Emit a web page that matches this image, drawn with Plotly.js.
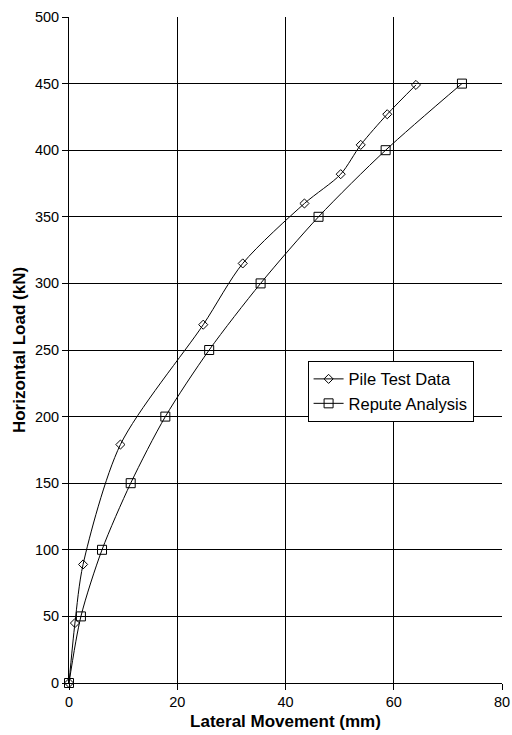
<!DOCTYPE html>
<html>
<head>
<meta charset="utf-8">
<script src="https://cdn.plot.ly/plotly-3.0.1.min.js"></script>
<style>html,body{margin:0;padding:0;background:#fff;}#chart{width:512px;height:735px;}</style>
</head>
<body>
<div id="chart"></div>
<script>
const pileX = [0, 1.1, 2.6, 9.5, 24.8, 32.1, 43.5, 50.2, 53.9, 58.8, 64.1];
const pileY = [0, 45, 89, 179, 269, 315, 360, 382, 404, 427, 449];
const reputeX = [0, 2.2, 6.1, 11.4, 17.8, 25.9, 35.4, 46.1, 58.5, 72.6];
const reputeY = [0, 50, 100, 150, 200, 250, 300, 350, 400, 450];
const seriesNames = ["Pile Test Data", "Repute Analysis"];

const traces = [
  {x: pileX, y: pileY, name: seriesNames[0], type: 'scatter', mode: 'lines+markers',
   line: {color: '#000', width: 1, shape: 'spline', smoothing: 0.8},
   marker: {symbol: 'diamond-open', size: 7, color: '#000', line: {width: 1}},
   cliponaxis: false},
  {x: reputeX, y: reputeY, name: seriesNames[1], type: 'scatter', mode: 'lines+markers',
   line: {color: '#000', width: 1, shape: 'spline', smoothing: 0.8},
   marker: {symbol: 'square-open', size: 9, color: '#000', line: {width: 1}},
   cliponaxis: false}
];

const layout = {
  width: 512, height: 735,
  margin: {l: 69, r: 10, t: 17, b: 52},
  paper_bgcolor: '#fff', plot_bgcolor: '#fff',
  font: {family: '"Liberation Sans", Arial, sans-serif', size: 14.5, color: '#000'},
  showlegend: true,
  legend: {x: 0.551, y: 0.484, xanchor: 'left', yanchor: 'top',
           bordercolor: '#000', borderwidth: 1, bgcolor: '#fff',
           font: {size: 16.5}, itemwidth: 30, tracegroupgap: 0},
  xaxis: {range: [0, 80], dtick: 20, tick0: 0, showgrid: true, gridcolor: '#000', gridwidth: 1,
          zeroline: false, showline: true, linecolor: '#000', linewidth: 1,
          ticks: 'outside', ticklen: 6, tickcolor: '#000',
          title: {text: '<b>Lateral Movement (mm)</b>', font: {size: 17}, standoff: 5}},
  yaxis: {range: [0, 500], dtick: 50, tick0: 0, showgrid: true, gridcolor: '#000', gridwidth: 1,
          zeroline: false, showline: true, linecolor: '#000', linewidth: 1,
          ticks: 'outside', ticklen: 6, tickcolor: '#000',
          title: {text: '<b>Horizontal Load (kN)</b>', font: {size: 17}, standoff: 4}}
};

Plotly.newPlot('chart', traces, layout, {displayModeBar: false, staticPlot: true});
</script>
</body>
</html>
